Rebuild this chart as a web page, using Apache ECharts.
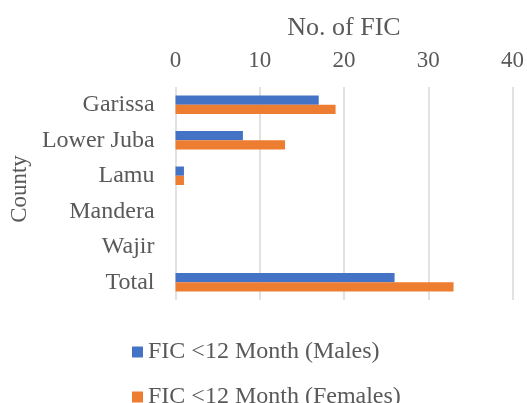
<!DOCTYPE html>
<html>
<head>
<meta charset="utf-8">
<script src="https://cdn.jsdelivr.net/npm/echarts@6/dist/echarts.min.js"></script>
<style>
  html, body { margin: 0; padding: 0; background: #fff; }
  #chart { width: 527px; height: 403px; }
</style>
</head>
<body>
<div id="chart"></div>
<script>
// counties, top to bottom
const counties = ['Garissa', 'Lower Juba', 'Lamu', 'Mandera', 'Wajir', 'Total'];
const males = [17, 8, 1, 0, 0, 26];
const females = [19, 13, 1, 0, 0, 33];
const seriesNames = ['FIC <12 Month (Males)', 'FIC <12 Month (Females)'];

const serif = '"Liberation Serif", "Times New Roman", serif';
const grey = '#595959';

const chart = echarts.init(document.getElementById('chart'));

// one legend per row, stacked like the excel one
const legendRow = (name, top) => ({
  left: 127,
  top: top,
  itemWidth: 11,
  itemHeight: 11,
  itemGap: 6,
  icon: 'rect',
  textStyle: { fontFamily: serif, fontSize: 24, color: grey },
  data: [name]
});

chart.setOption({
  animation: false,
  textStyle: { fontFamily: serif },
  grid: { left: 175, right: 14, top: 87, bottom: 103 },
  xAxis: {
    type: 'value',
    position: 'top',
    min: 0,
    max: 40,
    interval: 10,
    name: 'No. of FIC',
    nameLocation: 'middle',
    nameGap: 46,
    nameTextStyle: { fontFamily: serif, fontSize: 26, color: grey },
    axisLine: { show: false },
    axisTick: { show: false },
    axisLabel: { fontFamily: serif, fontSize: 23, color: grey, margin: 15 },
    splitLine: { lineStyle: { color: '#d9d9d9', width: 1.5 } }
  },
  yAxis: {
    type: 'category',
    data: counties,
    inverse: true,
    name: 'County',
    nameLocation: 'middle',
    nameGap: 142,
    nameRotate: 90,
    // nudge it up a bit, excel doesn't centre it on the plot
    nameTextStyle: { fontFamily: serif, fontSize: 23, color: grey, padding: [0, 0, 0, 9] },
    axisLine: { show: false },
    axisTick: { show: false },
    axisLabel: { fontFamily: serif, fontSize: 24, color: grey, margin: 21 }
  },
  legend: [legendRow(seriesNames[0], 335), legendRow(seriesNames[1], 380)],
  series: [
    {
      name: seriesNames[0],
      type: 'bar',
      data: males,
      barGap: '0%',
      barCategoryGap: '48%',
      itemStyle: { color: '#4472c4' }
    },
    {
      name: seriesNames[1],
      type: 'bar',
      data: females,
      itemStyle: { color: '#ed7d31' }
    }
  ]
});
</script>
</body>
</html>
